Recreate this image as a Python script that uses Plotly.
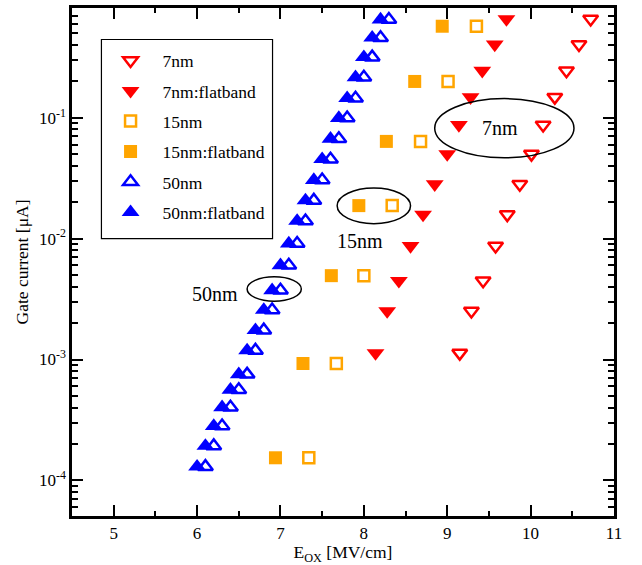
import numpy as np
import plotly.graph_objects as go

# ---- data ----
x_7nm = [9.15, 9.29, 9.43, 9.58, 9.72, 9.87, 10.01, 10.15, 10.29, 10.43, 10.58, 10.72]
x_7nm_fb = [8.14, 8.28, 8.42, 8.56, 8.71, 8.85, 9.00, 9.14, 9.28, 9.42, 9.57, 9.71]
y_7nm = [1.13e-3, 2.52e-3, 4.48e-3, 8.7e-3, 1.58e-2, 2.82e-2, 5.0e-2, 8.71e-2,
         0.148, 0.245, 0.404, 0.655]

x_15nm = [7.34, 7.67, 8.00, 8.34, 8.68, 9.01, 9.35]
x_15nm_fb = [6.94, 7.27, 7.61, 7.94, 8.27, 8.61, 8.94]
y_15nm = [1.54e-4, 9.27e-4, 4.94e-3, 1.875e-2, 6.37e-2, 0.1995, 0.571]

x_50nm = [6.1, 6.2, 6.3, 6.4, 6.5, 6.6, 6.7, 6.8, 6.9, 7.0, 7.1, 7.2,
          7.3, 7.4, 7.5, 7.6, 7.7, 7.8, 7.9, 8.0, 8.1, 8.2, 8.3]
x_50nm_fb = [6.0, 6.1, 6.2, 6.3, 6.4, 6.5, 6.6, 6.7, 6.8, 6.9, 7.0, 7.1,
             7.2, 7.3, 7.4, 7.5, 7.6, 7.7, 7.8, 7.9, 8.0, 8.1, 8.2]
y_50nm = [1.30e-4, 1.93e-4, 2.82e-4, 4.03e-4, 5.62e-4, 7.54e-4, 1.19e-3,
          1.75e-3, 2.57e-3, 3.74e-3, 6.02e-3, 9.1e-3, 1.40e-2, 2.07e-2,
          3.05e-2, 4.54e-2, 6.69e-2, 9.94e-2, 0.145, 0.216, 0.317, 0.459, 0.649]

x_ticks = [5, 6, 7, 8, 9, 10, 11]
y_ticks = [1e-4, 1e-3, 1e-2, 1e-1]
y_ticktext = ["10<sup>-4</sup>", "10<sup>-3</sup>", "10<sup>-2</sup>", "10<sup>-1</sup>"]

FONT = "Liberation Serif"
RED, ORANGE, BLUE = "#ff0000", "#ffa500", "#0000ff"

fig = go.Figure()

def add(name, x, y, symbol, color, size, lw=0):
    fig.add_trace(go.Scatter(
        x=x, y=y, mode="markers", name=name, legendgroup=name,
        marker=dict(symbol=symbol, size=size, color=color,
                    line=dict(width=lw, color=color)),
    ))

add("7nm", x_7nm, y_7nm, "triangle-down-open", RED, 13, 2.5)
add("7nm:flatband", x_7nm_fb, y_7nm, "triangle-down", RED, 15.5)
add("15nm", x_15nm, y_15nm, "square-open", ORANGE, 11, 2.5)
add("15nm:flatband", x_15nm_fb, y_15nm, "square", ORANGE, 13)
add("50nm", x_50nm, y_50nm, "triangle-up-open", BLUE, 13, 2.5)
add("50nm:flatband", x_50nm_fb, y_50nm, "triangle-up", BLUE, 15.5)

# ellipses (data coords; log y axis takes linear values for shapes)
ell = [
    (8.85, 10.52, -1.332, -0.842),
    (7.68, 8.56, -1.876, -1.582),
    (6.60, 7.25, -2.517, -2.316),
]
for x0, x1, l0, l1 in ell:
    fig.add_shape(type="circle", xref="x", yref="y", x0=x0, x1=x1,
                  y0=10 ** l0, y1=10 ** l1, line=dict(color="black", width=1.5))

# legend box
fig.add_shape(type="rect", xref="paper", yref="paper", x0=0.0543, x1=0.370,
              y0=0.546, y1=0.938, line=dict(color="black", width=1.2),
              fillcolor="rgba(0,0,0,0)")

labels = [("7nm", 9.63, -1.087), ("15nm", 7.95, -2.02), ("50nm", 6.21, -2.457)]
for t, x, ly in labels:
    fig.add_annotation(x=x, y=ly, xref="x", yref="y", text=t, showarrow=False,
                       font=dict(family=FONT, size=20, color="black"))

axis_common = dict(
    showline=True, linewidth=2.5, linecolor="black", mirror="allticks",
    ticks="inside", tickwidth=2, tickcolor="black", showgrid=False, zeroline=False,
    tickfont=dict(family=FONT, size=17, color="black"),
)

fig.update_xaxes(
    range=[4.5, 11], tickvals=x_ticks, ticklen=11,
    minor=dict(dtick=0.5, ticks="inside", ticklen=5, tickwidth=2, tickcolor="black", showgrid=False),
    title=dict(text="E<sub>OX</sub> [MV/cm]", font=dict(family=FONT, size=17.5, color="black"), standoff=5),
    **axis_common,
)
fig.update_yaxes(
    type="log", range=[-4.294, -0.0926], tickvals=y_ticks, ticktext=y_ticktext, ticklen=11,
    minor=dict(dtick="D1", ticks="inside", ticklen=6, tickwidth=2, tickcolor="black", showgrid=False),
    title=dict(text="Gate current [μA]", font=dict(family=FONT, size=17.5, color="black"), standoff=6),
    **axis_common,
)

fig.update_layout(
    width=642, height=565,
    margin=dict(l=72, r=28, t=5, b=46),
    plot_bgcolor="white", paper_bgcolor="white",
    font=dict(family=FONT, color="black"),
    legend=dict(x=0.049, y=0.932, xanchor="left", yanchor="top",
                bgcolor="rgba(0,0,0,0)", borderwidth=0,
                font=dict(family=FONT, size=17.5, color="black"),
                traceorder="grouped", tracegroupgap=4.6, itemwidth=54),
)

fig.write_html("out.html")
